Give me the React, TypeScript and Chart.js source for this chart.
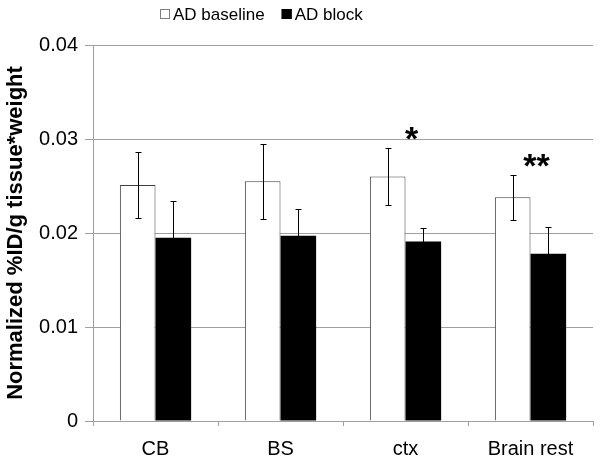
import { useEffect, useRef } from "react";
import { Chart, registerables } from "chart.js";

Chart.register(...registerables);

const categories = ["CB", "BS", "ctx", "Brain rest"];
const seriesNames = ["AD baseline", "AD block"];
const baselineValues = [0.0251, 0.0255, 0.026, 0.0238];
const baselineErrors = [0.0035, 0.004, 0.003, 0.0024];
const blockValues = [0.0195, 0.0197, 0.0191, 0.0178];
const blockErrors = [0.0039, 0.0029, 0.0014, 0.0028];
const significance = ["", "", "*", "**"];
const yMin = 0;
const yMax = 0.04;
const yStep = 0.01;
const yTitle = "Normalized %ID/g tissue*weight";

const FONT = "'Liberation Sans', Arial, sans-serif";

const errorBarPlugin = {
  id: "errorBars",
  afterDatasetsDraw(chart: any) {
    const ctx = chart.ctx;
    const y = chart.scales.y;
    const errs = [baselineErrors, blockErrors];
    chart.data.datasets.forEach((ds: any, di: number) => {
      const meta = chart.getDatasetMeta(di);
      meta.data.forEach((bar: any, i: number) => {
        const v = ds.data[i];
        const e = errs[di][i];
        const top = Math.round(y.getPixelForValue(v + e)) + 0.5;
        const bot = Math.round(y.getPixelForValue(v - e)) + 0.5;
        const x = Math.round(bar.x) + 0.5;
        ctx.save();
        ctx.strokeStyle = "#000";
        ctx.lineWidth = 1;
        ctx.beginPath();
        ctx.moveTo(x, top);
        ctx.lineTo(x, bot);
        ctx.moveTo(x - 3, top);
        ctx.lineTo(x + 3, top);
        ctx.moveTo(x - 3, bot);
        ctx.lineTo(x + 3, bot);
        ctx.stroke();
        ctx.restore();
      });
    });
  },
};

const significancePlugin = {
  id: "significance",
  afterDatasetsDraw(chart: any) {
    const ctx = chart.ctx;
    const y = chart.scales.y;
    const x = chart.scales.x;
    ctx.save();
    ctx.fillStyle = "#000";
    ctx.font = `bold 34px ${FONT}`;
    ctx.textAlign = "center";
    ctx.textBaseline = "alphabetic";
    significance.forEach((s, i) => {
      if (!s) return;
      const top = y.getPixelForValue(baselineValues[i] + baselineErrors[i]);
      ctx.fillText(s, x.getPixelForValue(i) + 6, top + 2);
    });
    ctx.restore();
  },
};

const legendPlugin = {
  id: "customLegend",
  afterDraw(chart: any) {
    const ctx = chart.ctx;
    ctx.save();
    ctx.font = `17px ${FONT}`;
    ctx.textBaseline = "middle";
    ctx.textAlign = "left";
    const fills = ["#ffffff", "#000000"];
    let xPos = 160;
    const yMid = 14;
    seriesNames.forEach((name, i) => {
      ctx.fillStyle = fills[i];
      ctx.fillRect(xPos, yMid - 5, 10, 10);
      ctx.strokeStyle = i === 0 ? "#7f7f7f" : "#000";
      ctx.lineWidth = 1;
      ctx.strokeRect(xPos + 0.5, yMid - 4.5, 9, 9);
      ctx.fillStyle = "#000";
      ctx.fillText(name, xPos + 13, yMid + 1);
      const w = ctx.measureText(name).width;
      xPos += 13 + w + 17;
    });
    ctx.restore();
  },
};

export default function App() {
  const ref = useRef<HTMLCanvasElement | null>(null);

  useEffect(() => {
    if (!ref.current) return;
    const chart = new Chart(ref.current, {
      type: "bar",
      data: {
        labels: categories,
        datasets: [
          {
            label: seriesNames[0],
            data: baselineValues,
            backgroundColor: "#ffffff",
            borderColor: "#404040",
            borderWidth: 1,
            barPercentage: 1,
            categoryPercentage: 0.57,
          },
          {
            label: seriesNames[1],
            data: blockValues,
            backgroundColor: "#000000",
            borderColor: "#000000",
            borderWidth: 0,
            barPercentage: 1,
            categoryPercentage: 0.57,
          },
        ],
      },
      options: {
        responsive: false,
        animation: false,
        layout: { padding: { top: 45, right: 7, left: 0, bottom: 0 } },
        plugins: {
          legend: { display: false },
          tooltip: { enabled: false },
        },
        scales: {
          x: {
            grid: {
              offset: true,
              drawOnChartArea: false,
              drawTicks: true,
              tickLength: 5,
              color: "#a0a0a0",
            },
            border: { color: "#a0a0a0" },
            ticks: {
              color: "#000",
              font: { family: FONT, size: 20 },
              padding: 11,
            },
            afterFit(scale: any) {
              scale.height = 43;
            },
          },
          y: {
            min: yMin,
            max: yMax,
            ticks: {
              stepSize: yStep,
              color: "#000",
              font: { family: FONT, size: 20 },
              padding: 7,
              callback: (v: any) => (Number(v) === 0 ? "0" : Number(v).toFixed(2)),
            },
            grid: {
              color: "#a0a0a0",
              tickLength: 8,
            },
            border: { color: "#a0a0a0" },
            title: {
              display: true,
              text: yTitle,
              color: "#000",
              font: { family: FONT, size: 22, weight: "bold" },
              padding: { top: 3, bottom: 3 },
            },
            afterFit(scale: any) {
              scale.width = 93;
            },
          },
        },
      },
      plugins: [errorBarPlugin, significancePlugin, legendPlugin],
    } as any);
    return () => chart.destroy();
  }, []);

  return (
    <canvas
      ref={ref}
      width={600}
      height={464}
      style={{ position: "absolute", left: 0, top: 0, display: "block", background: "#fff" }}
    />
  );
}
